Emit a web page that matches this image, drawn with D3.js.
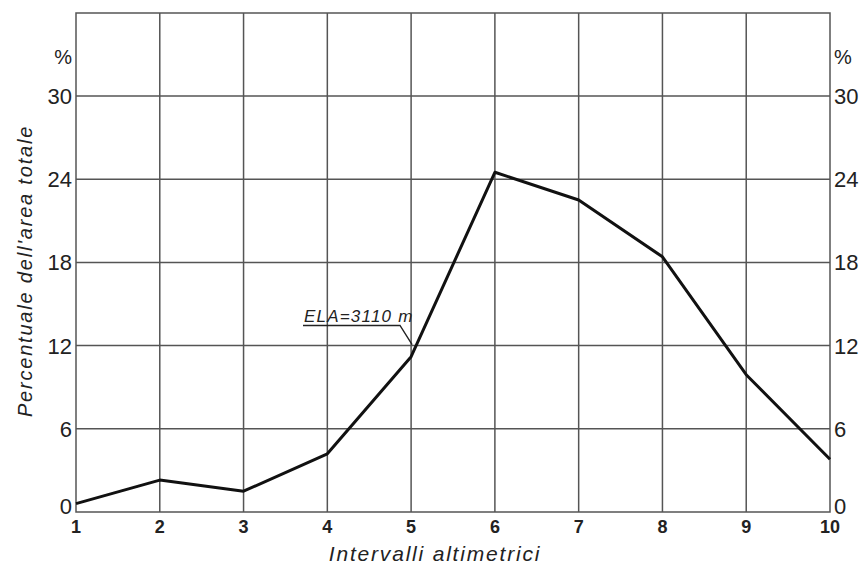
<!DOCTYPE html>
<html>
<head>
<meta charset="utf-8">
<script src="https://cdn.jsdelivr.net/npm/d3@7"></script>
<style>
  body { margin: 0; background: #fff; }
  svg text { font-family: "Liberation Sans", Arial, sans-serif; fill: #222; }
</style>
</head>
<body>
<div id="chart"></div>
<script>
// intervalli altimetrici and percentage of total area
const intervals = [1, 2, 3, 4, 5, 6, 7, 8, 9, 10];
const percent = [0.6, 2.3, 1.5, 4.2, 11.2, 24.5, 22.5, 18.4, 9.9, 3.8];
const yTicks = [0, 6, 12, 18, 24, 30];

const width = 866, height = 568;
const margin = { top: 13, right: 36, bottom: 56, left: 76 };

const svg = d3.select("#chart")
  .append("svg")
  .attr("width", width)
  .attr("height", height);

const x = d3.scaleLinear().domain([1, 10]).range([margin.left, width - margin.right]);
const y = d3.scaleLinear().domain([0, 30]).range([height - margin.bottom, 96]);

const gridColor = "#555";

// frame
svg.append("rect")
  .attr("x", x(1))
  .attr("y", margin.top)
  .attr("width", x(10) - x(1))
  .attr("height", y(0) - margin.top)
  .attr("fill", "none")
  .attr("stroke", gridColor)
  .attr("stroke-width", 1.5);

// vertical grid
svg.selectAll(".vgrid")
  .data(intervals.slice(1, -1))
  .enter()
  .append("line")
  .attr("x1", d => x(d))
  .attr("x2", d => x(d))
  .attr("y1", margin.top)
  .attr("y2", y(0))
  .attr("stroke", gridColor)
  .attr("stroke-width", 1.5);

// horizontal grid
svg.selectAll(".hgrid")
  .data(yTicks.slice(1))
  .enter()
  .append("line")
  .attr("x1", x(1))
  .attr("x2", x(10))
  .attr("y1", d => y(d))
  .attr("y2", d => y(d))
  .attr("stroke", gridColor)
  .attr("stroke-width", 1.5);

// y labels left and right
const yLab = (d) => d === 0 ? y(d) - 6 : y(d);
svg.selectAll(".ylabL")
  .data(yTicks)
  .enter()
  .append("text")
  .attr("x", x(1) - 4)
  .attr("y", yLab)
  .attr("dy", "0.36em")
  .attr("text-anchor", "end")
  .attr("font-size", 22)
  .text(d => d);

svg.selectAll(".ylabR")
  .data(yTicks)
  .enter()
  .append("text")
  .attr("x", x(10) + 4)
  .attr("y", yLab)
  .attr("dy", "0.36em")
  .attr("text-anchor", "start")
  .attr("font-size", 22)
  .text(d => d);

svg.append("text")
  .attr("x", x(1) - 4).attr("y", 64)
  .attr("text-anchor", "end").attr("font-size", 20).text("%");
svg.append("text")
  .attr("x", x(10) + 4).attr("y", 64)
  .attr("text-anchor", "start").attr("font-size", 20).text("%");

// x labels
svg.selectAll(".xlab")
  .data(intervals)
  .enter()
  .append("text")
  .attr("x", d => x(d))
  .attr("y", y(0) + 21)
  .attr("text-anchor", "middle")
  .attr("font-size", 18)
  .attr("font-weight", "bold")
  .text(d => d);

// axis titles
svg.append("text")
  .attr("x", 435)
  .attr("y", 561)
  .attr("text-anchor", "middle")
  .attr("font-size", 21)
  .attr("font-style", "italic")
  .attr("letter-spacing", 1.8)
  .text("Intervalli altimetrici");

svg.append("text")
  .attr("transform", "translate(32, 271) rotate(-90)")
  .attr("text-anchor", "middle")
  .attr("font-size", 20)
  .attr("font-style", "italic")
  .attr("letter-spacing", 1.8)
  .text("Percentuale dell'area totale");

// data line
const line = d3.line()
  .x((d, i) => x(intervals[i]))
  .y(d => y(d));

svg.append("path")
  .datum(percent)
  .attr("d", line)
  .attr("fill", "none")
  .attr("stroke", "#111")
  .attr("stroke-width", 3)
  .attr("stroke-linejoin", "round");

// ELA annotation
const elaX = x(5) + 1, elaY = y(12) - 1;
svg.append("polyline")
  .attr("points", `303,325.5 400,325.5 ${elaX},${elaY}`)
  .attr("fill", "none")
  .attr("stroke", "#222")
  .attr("stroke-width", 1.4);

svg.append("text")
  .attr("x", 304)
  .attr("y", 322)
  .attr("font-size", 17)
  .attr("font-style", "italic")
  .attr("letter-spacing", 1.2)
  .text("ELA=3110 m");
</script>
</body>
</html>
